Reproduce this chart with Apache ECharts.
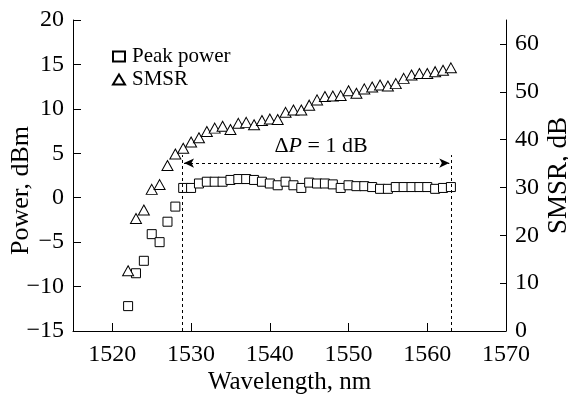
<!DOCTYPE html>
<html><head><meta charset="utf-8">
<script src="https://cdn.jsdelivr.net/npm/echarts@6/dist/echarts.min.js"></script>
<style>html,body{margin:0;padding:0;background:#fff}#c{width:568px;height:397px}</style>
</head><body><div id="c"></div>
<script>
const wavelength = [1522,1523,1524,1525,1526,1527,1528,1529,1530,1531,1532,1533,1534,1535,1536,1537,1538,1539,1540,1541,1542,1543,1544,1545,1546,1547,1548,1549,1550,1551,1552,1553,1554,1555,1556,1557,1558,1559,1560,1561,1562,1563];
const peakPower = [-12.2,-8.5,-7.1,-4.1,-5.0,-2.7,-1.0,1.1,1.1,1.6,1.8,1.8,1.8,2.0,2.1,2.1,2.0,1.8,1.6,1.4,1.8,1.4,1.1,1.7,1.6,1.6,1.5,1.1,1.4,1.3,1.3,1.2,1.0,1.0,1.2,1.2,1.2,1.2,1.2,1.0,1.1,1.2];
const smsr = [12.6,23.5,25.3,29.6,30.6,34.6,37.0,38.2,39.5,40.4,41.7,42.4,42.8,42.1,43.4,43.6,43.1,44.0,44.3,44.2,45.7,46.2,46.2,47.2,48.3,49.0,49.1,49.2,50.2,49.7,50.6,51.0,51.4,51.2,51.7,52.8,53.5,53.8,53.8,54.2,54.5,55.0];
const xTicks = [1520,1530,1540,1550,1560,1570];
const powerTicks = [-15,-10,-5,0,5,10,15,20];
const smsrTicks = [0,10,20,30,40,50,60];
const bandEdges = [1528.9, 1563.0];
const arrowLevel = 3.9;
const edgeTop = 4.8;
const deltaLabelPos = [1546.5, 5.75];

const FONT = '"Liberation Serif","Times New Roman",serif';
const black = '#000';
const fmt = v => String(v).replace('-', '\u2212');
const chart = echarts.init(document.getElementById('c'));
const dash = {color: black, width: 1, type: [3, 3]};

chart.setOption({
  animation: false,
  backgroundColor: '#fff',
  grid: {left: 73, right: 62, top: 20, bottom: 66, outerBoundsMode: 'none', containLabel: false},
  legend: {
    orient: 'vertical', left: 112, top: 46, padding: 0,
    itemWidth: 12, itemHeight: 10, itemGap: 2,
    data: ['Peak power', 'SMSR'],
    textStyle: {fontFamily: FONT, fontSize: 21, color: black, lineHeight: 17, padding: [0,0,0,2]}
  },
  xAxis: {
    type: 'value', min: 1515, max: 1570,
    name: 'Wavelength, nm', nameLocation: 'middle', nameGap: 39, nameMoveOverlap: false,
    nameTextStyle: {fontFamily: FONT, fontSize: 25, color: black},
    axisLine: {show: true, onZero: false, lineStyle: {color: black, width: 1}},
    axisTick: {show: true, inside: true, length: 8, customValues: xTicks, lineStyle: {color: black}},
    axisLabel: {customValues: xTicks, formatter: fmt, fontFamily: FONT, fontSize: 24, color: black, margin: 12},
    splitLine: {show: false}
  },
  yAxis: [{
    type: 'value', min: -15, max: 20, interval: 5, position: 'left',
    name: 'Power, dBm', nameLocation: 'middle', nameGap: 39, nameRotate: 90, nameMoveOverlap: false,
    nameTextStyle: {fontFamily: FONT, fontSize: 26, color: black, padding: [0, 30, 0, 0]},
    axisLine: {show: true, onZero: false, lineStyle: {color: black, width: 1}},
    axisTick: {show: true, inside: true, length: 8, customValues: powerTicks, lineStyle: {color: black}},
    axisLabel: {customValues: powerTicks, formatter: fmt, fontFamily: FONT, fontSize: 24, color: black, margin: 9},
    splitLine: {show: false}
  }, {
    type: 'value', min: 0, max: 65, position: 'right',
    name: 'SMSR, dB', nameLocation: 'middle', nameGap: 39, nameRotate: 90, nameMoveOverlap: false,
    nameTextStyle: {fontFamily: FONT, fontSize: 27, color: black},
    axisLine: {show: true, onZero: false, lineStyle: {color: black, width: 1}},
    axisTick: {show: true, inside: true, length: 6, customValues: smsrTicks, lineStyle: {color: black}},
    axisLabel: {customValues: smsrTicks, formatter: fmt, fontFamily: FONT, fontSize: 24, color: black, margin: 9},
    splitLine: {show: false}
  }],
  series: [{
    name: 'Peak power', type: 'scatter', yAxisIndex: 0,
    symbol: 'rect', symbolSize: 9,
    itemStyle: {color: '#fff', borderColor: black, borderWidth: 1, opacity: 1},
    data: wavelength.map((w, i) => [w, peakPower[i]]),
    z: 3,
    markLine: {
      silent: true, symbol: ['none', 'none'], symbolSize: 9,
      label: {show: false}, lineStyle: dash,
      data: [
        [{coord: [bandEdges[0], -15]}, {coord: [bandEdges[0], edgeTop]}],
        [{coord: [bandEdges[1], -15]}, {coord: [bandEdges[1], edgeTop]}],
        [{coord: [bandEdges[0] + 0.2, arrowLevel], symbol: 'arrow', symbolSize: [7, 10]},
         {coord: [bandEdges[1] - 0.2, arrowLevel], symbol: 'arrow', symbolSize: [7, 10]}]
      ]
    },
    markPoint: {
      silent: true, symbol: 'circle', symbolSize: 1,
      itemStyle: {color: 'rgba(0,0,0,0)'},
      label: {
        show: true, position: 'inside',
        formatter: '{a|Δ}{b|P}{a| = 1 dB}',
        rich: {
          a: {fontFamily: FONT, fontSize: 22, color: black},
          b: {fontFamily: FONT, fontSize: 22, color: black, fontStyle: 'italic'}
        }
      },
      data: [{coord: deltaLabelPos}]
    }
  }, {
    name: 'SMSR', type: 'scatter', yAxisIndex: 1,
    symbol: 'triangle', symbolSize: [11, 10],
    itemStyle: {color: '#fff', borderColor: black, borderWidth: 1, opacity: 1},
    data: wavelength.map((w, i) => [w, smsr[i]]),
    z: 3
  }]
});
</script>
</body></html>
